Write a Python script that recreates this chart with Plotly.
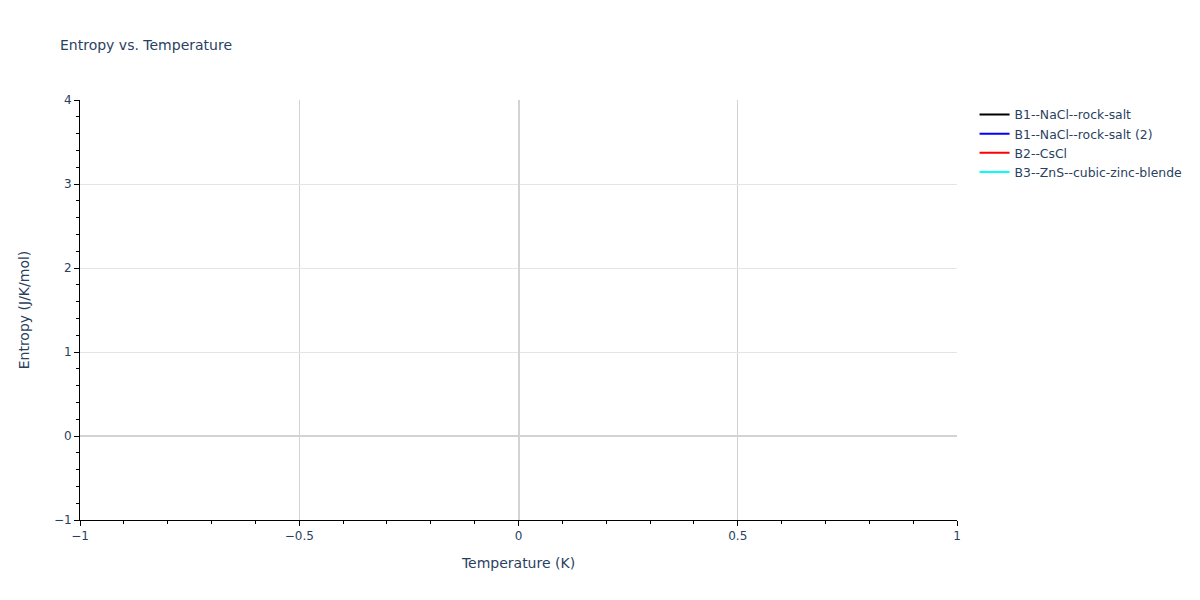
import plotly.graph_objects as go

series_names = ["B1--NaCl--rock-salt", "B1--NaCl--rock-salt (2)", "B2--CsCl", "B3--ZnS--cubic-zinc-blende"]
series_colors = ["black", "blue", "red", "cyan"]
temperature = [[None], [None], [None], [None]]
entropy = [[None], [None], [None], [None]]
x_range = [-1, 1]
y_range = [-1, 4]

fig = go.Figure()
for name, color, x, y in zip(series_names, series_colors, temperature, entropy):
    fig.add_trace(go.Scatter(x=x, y=y, mode="lines", name=name,
                             line=dict(color=color), showlegend=True))

fig.update_layout(
    template="plotly_white",
    width=1200, height=600,
    font=dict(family="Verdana, DejaVu Sans, sans-serif", size=12, color="#2a3f5f"),
    title=dict(text="Entropy vs. Temperature", x=0.05, font=dict(size=14)),
    showlegend=True,
    legend=dict(font=dict(size=12.4)),
    margin=dict(l=80, r=80, t=100, b=80),
    xaxis=dict(
        title=dict(text="Temperature (K)"),
        range=x_range,
        showline=True, linecolor="black", linewidth=1,
        ticks="outside", tickcolor="black",
        gridcolor="lightgray", zerolinecolor="lightgray",
        minor=dict(ticks="outside", tickcolor="black", dtick=0.1),
    ),
    yaxis=dict(
        title=dict(text="Entropy (J/K/mol)", standoff=20),
        range=y_range,
        showline=True, linecolor="black", linewidth=1,
        ticks="outside", tickcolor="black",
        gridcolor="#e5e5e5", zerolinecolor="lightgray",
        minor=dict(ticks="outside", tickcolor="black", dtick=0.2),
    ),
)

fig.write_html("out.html", config={"displayModeBar": False},
               post_script="document.body.style.margin='0';")
